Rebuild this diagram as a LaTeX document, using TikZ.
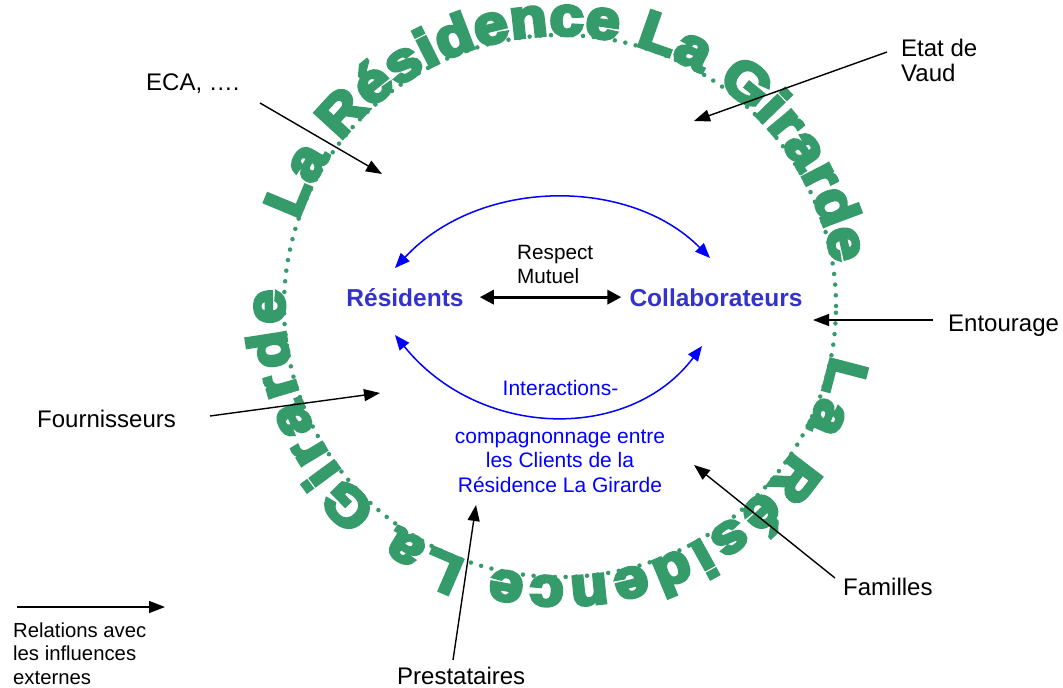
\documentclass[tikz,border=0pt]{standalone}
\usepackage{fontspec}
\setmainfont{Liberation Sans}
\newfontfamily\ringfont[FakeStretch=1.12,FakeBold=7,BoldFeatures={FakeBold=7,FakeStretch=1.12}]{Liberation Sans}
\usetikzlibrary{decorations.text,arrows.meta}
\definecolor{ringgreen}{RGB}{54,155,106}
\definecolor{resblue}{RGB}{51,51,204}
\definecolor{arcblue}{RGB}{0,0,255}
\tikzset{
 lab/.style={font=\fontsize{24}{25}\selectfont, inner sep=0pt, text=black},
 legendtext/.style={font=\fontsize{20.3}{23.5}\selectfont, inner sep=0pt, text=black, align=left},
 ext/.style={draw=black, line width=1.4pt, -{Triangle[length=16pt,width=12pt]}},
 arcarrow/.style={draw=arcblue, line width=1.5pt, {Triangle[length=15pt,width=12pt]}-{Triangle[length=15pt,width=12pt]}},
 mutual/.style={draw=black, line width=3.2pt, {Triangle[length=14pt,width=14pt]}-{Triangle[length=14pt,width=14pt]}},
 keyword/.style={font=\bfseries\fontsize{24.5}{26}\selectfont, text=resblue, inner sep=0pt},
 bluetext/.style={font=\fontsize{21}{24.5}\selectfont, text=arcblue, inner sep=0pt, align=center},
 ringtext/.style={decorate, decoration={text along path, text format delimiters={|}{|}, text={|\ringfont\bfseries\fontsize{54}{54}\selectfont|#1}, text color=ringgreen, text align=fit to path}},
}
\begin{document}
\begin{tikzpicture}[x=1pt,y=-1pt]
\useasboundingbox (0,0) rectangle (1063,688);
\fill[white] (0,0) rectangle (1063,688);
% ring
\begin{scope}[shift={(560,306)}]
 \begin{scope}[y=1pt]
 \draw[ringgreen, line width=4.5pt, line cap=round, dash pattern=on 0pt off 10.7pt] (0,0) ellipse [x radius=276, y radius=271];
 \path[ringtext={La Résidence La Girarde}] (161.6:276 and 271) arc [start angle=161.6, end angle=9, x radius=276, y radius=271];
 \path[ringtext={La Résidence La Girarde}] (-10.5:276 and 271) arc [start angle=-10.5, end angle=-183.4, x radius=276, y radius=271];
 \end{scope}
\end{scope}
% central nodes
\node[keyword, anchor=base] (res) at (405,306) {Résidents};
\node[keyword, anchor=base] (col) at (716,306) {Collaborateurs};
\node[font=\fontsize{20.7}{23.5}\selectfont, inner sep=0pt, align=left, anchor=base west] (resp) at (517,283) {Respect\\Mutuel};
\node[bluetext, anchor=base] (inter) at (560.5,395) {Interactions-};
\node[bluetext, anchor=base] (comp) at (560,492) {compagnonnage entre\\les Clients de la\\Résidence La Girarde};
\draw[mutual, shorten <=16pt, shorten >=8pt] (res.east) -- (res.east -| col.west);
% blue arcs
\coordinate (tl) at (395,268);
\coordinate (tr) at (710,258);
\coordinate (bl) at (395,335);
\coordinate (br) at (702,346);
\draw[arcarrow] (tl) .. controls (480,177) and (630,177) .. (tr);
\draw[arcarrow] (bl) .. controls (480,440) and (630,442) .. (br);
% outer labels
\node[lab, anchor=base west] (eca) at (146,90) {ECA, ….};
\node[lab, anchor=base west, align=left] (etat) at (901,81) {Etat de\\Vaud};
\node[lab, anchor=base west] (ent) at (948,331) {Entourage};
\node[lab, anchor=base west] (four) at (37,427) {Fournisseurs};
\node[lab, anchor=base west] (fam) at (843,595) {Familles};
\node[lab, anchor=base west] (prest) at (397,684) {Prestataires};
\node[legendtext, anchor=base west] (leg) at (13,684) {Relations avec\\les influences\\externes};
% external arrows
\coordinate (ecaS) at (260,103); \coordinate (ecaE) at (382,174);
\coordinate (etatS) at (887,52); \coordinate (etatE) at (694,121);
\coordinate (entS) at (933,320); \coordinate (entE) at (813,320);
\coordinate (fourS) at (210,416); \coordinate (fourE) at (380,393);
\coordinate (famS) at (835,578); \coordinate (famE) at (694,465);
\coordinate (prestS) at (453,660); \coordinate (prestE) at (476,505);
\coordinate (legS) at (17,607); \coordinate (legE) at (165,607);
\draw[ext] (ecaS) -- (ecaE);
\draw[ext] (etatS) -- (etatE);
\draw[ext] (entS) -- (entE);
\draw[ext] (fourS) -- (fourE);
\draw[ext] (famS) -- (famE);
\draw[ext] (prestS) -- (prestE);
\draw[ext] (legS) -- (legE);
\end{tikzpicture}
\end{document}
